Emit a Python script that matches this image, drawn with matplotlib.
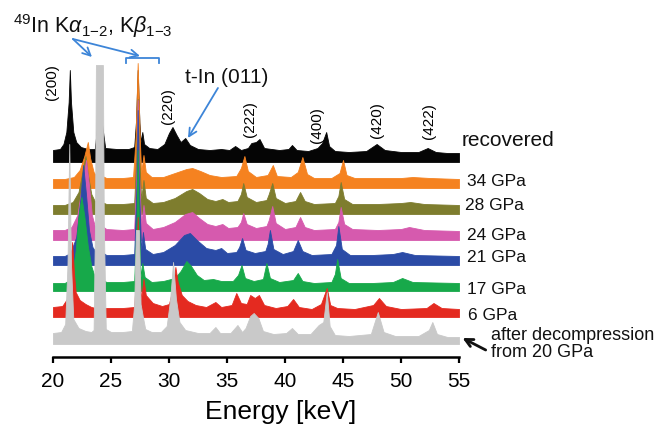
import matplotlib
matplotlib.use('Agg')
import matplotlib.pyplot as plt

plt.rcParams['font.family'] = ['Liberation Sans', 'DejaVu Sans']
plt.rcParams['mathtext.fontset'] = 'custom'
plt.rcParams['mathtext.rm'] = 'Liberation Sans'
plt.rcParams['mathtext.it'] = 'Liberation Sans:italic'
plt.rcParams['mathtext.bf'] = 'Liberation Sans:bold'

# ---------------- data (energy in keV, intensity in arbitrary units) ----------------
labels = ['recovered', '34 GPa', '28 GPa', '24 GPa', '21 GPa', '17 GPa', '6 GPa',
          'after decompression\nfrom 20 GPa']
colors = ['#050505', '#F58220', '#7E7D2E', '#D65AAE', '#2B4BA6', '#17A94A', '#E42A20', '#C9C9C9']
offsets = [195, 169, 143, 117, 92, 66, 40, 13]

e_recovered = [20.0, 20.6, 20.9, 21.15, 21.35, 21.45, 21.55, 21.75, 22.0, 22.4, 23.0, 23.6, 23.85,
               24.0, 24.2, 24.5, 25.5, 26.5, 27.0, 27.15, 27.3, 27.45, 27.55, 27.7, 27.85, 28.3,
               29.0, 29.6, 30.0, 30.3, 30.65, 31.0, 31.4, 31.8, 32.5, 33.5, 34.5, 35.2, 35.7, 36.2,
               36.8, 37.1, 37.5, 37.8, 38.2, 39.5, 40.3, 40.6, 41.0, 42.0, 42.8, 43.2, 43.55, 43.8,
               44.3, 45.5, 47.0, 47.9, 48.6, 50.0, 51.5, 52.3, 53.0, 54.0, 55.0]
i_recovered = [12, 13, 18, 30, 60, 92, 60, 30, 20, 15, 13, 13, 40,
               90, 40, 14, 13, 13, 15, 40, 92, 40, 20, 30, 18, 14,
               13, 18, 29, 35, 27, 20, 24, 17, 13, 12, 13, 12, 16, 12,
               14, 19, 20, 23, 14, 12, 13, 17, 12, 11, 14, 19, 30, 16,
               11, 10, 11, 18, 12, 10, 10, 14, 10, 9, 9]

e_34gpa = [20.0, 21.0, 21.8, 22.3, 22.7, 23.0, 23.2, 23.5, 23.75, 23.88, 24.0, 24.12, 24.25, 24.6,
           26.0, 26.9, 27.12, 27.3, 27.48, 27.6, 27.8, 28.0, 28.5, 29.5, 30.5, 31.5, 32.0, 32.7, 33.5,
           34.5, 35.8, 36.2, 36.5, 36.8, 37.5, 38.5, 38.95, 39.3, 40.5, 41.1, 41.5, 41.9, 42.5, 44.0,
           44.7, 45.0, 45.3, 46.0, 48.0, 50.0, 51.0, 52.5, 55.0]
i_34gpa = [9, 9, 11, 18, 32, 46, 30, 16, 12, 60, 110, 60, 12, 10,
           10, 11, 50, 125, 50, 15, 33, 16, 11, 11, 15, 19, 20, 17, 13,
           11, 12, 20, 32, 17, 11, 13, 23, 12, 11, 16, 31, 14, 10, 10,
           15, 28, 13, 10, 10, 10, 11, 10, 9]

e_28gpa = [20.0, 21.0, 21.7, 22.2, 22.5, 22.8, 23.0, 23.3, 23.6, 23.78, 23.9, 24.0, 24.1, 24.22,
           24.6, 26.0, 27.0, 27.18, 27.3, 27.42, 27.6, 27.8, 28.0, 28.6, 29.5, 30.5, 31.5, 32.0,
           32.6, 33.3, 34.0, 34.6, 35.1, 35.9, 36.2, 36.4, 36.7, 37.5, 38.4, 38.6, 38.9, 39.2, 40.0,
           40.9, 41.3, 41.7, 42.5, 44.3, 44.6, 44.8, 45.1, 45.8, 48.0, 50.0, 50.8, 52.0, 55.0]
i_28gpa = [9, 9, 12, 22, 40, 58, 40, 20, 13, 12, 60, 120, 60, 12,
           10, 10, 11, 60, 115, 60, 15, 34, 16, 11, 12, 16, 23, 25,
           21, 15, 13, 15, 12, 13, 20, 31, 17, 12, 14, 20, 31, 16, 11,
           13, 22, 13, 10, 11, 18, 32, 15, 10, 10, 11, 12, 10, 9]

e_24gpa = [20.0, 21.0, 21.6, 22.1, 22.5, 22.85, 23.1, 23.35, 23.6, 23.78, 23.9, 24.0, 24.1, 24.22,
           24.6, 26.0, 27.0, 27.2, 27.3, 27.4, 27.6, 27.8, 28.0, 28.6, 29.5, 30.5, 31.4, 32.0, 32.6,
           33.3, 34.0, 34.6, 35.1, 35.9, 36.2, 36.4, 36.7, 37.5, 38.4, 38.6, 38.9, 39.2, 40.0, 40.9,
           41.3, 41.7, 42.5, 44.3, 44.6, 44.8, 45.1, 45.8, 48.0, 50.0, 50.7, 52.0, 55.0]
i_24gpa = [10, 10, 13, 25, 55, 80, 55, 25, 14, 14, 80, 150, 80, 14,
           11, 10, 11, 70, 140, 70, 16, 35, 17, 11, 13, 18, 26, 28, 22,
           16, 14, 16, 12, 13, 18, 27, 16, 12, 14, 20, 34, 17, 11, 13,
           23, 13, 10, 11, 18, 33, 16, 11, 10, 11, 13, 10, 9]

e_21gpa = [20.0, 21.0, 21.5, 22.0, 22.35, 22.6, 22.85, 23.1, 23.4, 23.7, 23.8, 23.9, 24.0, 24.1,
           24.2, 24.6, 26.0, 27.0, 27.2, 27.3, 27.4, 27.6, 27.75, 27.95, 28.6, 29.5, 30.5, 31.3,
           31.8, 32.4, 33.2, 34.0, 34.5, 35.0, 35.8, 36.05, 36.3, 36.6, 37.4, 38.3, 38.5, 38.7, 39.0,
           39.8, 40.7, 41.1, 41.5, 42.3, 44.0, 44.4, 44.6, 44.9, 45.6, 47.5, 49.3, 50.1, 51.2, 55.0]
i_21gpa = [9, 9, 12, 28, 65, 100, 70, 35, 18, 13, 13, 90, 170, 90,
           13, 10, 10, 11, 80, 155, 80, 15, 33, 16, 11, 13, 20, 30,
           32, 25, 17, 15, 17, 12, 13, 18, 27, 15, 12, 14, 21, 35, 16,
           11, 14, 25, 14, 10, 11, 20, 39, 16, 10, 10, 11, 13, 10, 9]

e_17gpa = [20.0, 21.0, 21.6, 21.95, 22.2, 22.45, 22.7, 23.0, 23.3, 23.6, 23.8, 23.9, 24.0, 24.1,
           24.2, 24.6, 26.0, 27.0, 27.2, 27.3, 27.4, 27.55, 27.7, 27.9, 28.5, 29.5, 30.5, 31.0,
           31.5, 31.9, 32.4, 33.0, 33.8, 34.5, 35.5, 35.95, 36.25, 36.55, 37.3, 38.1, 38.4, 38.7,
           39.5, 40.7, 41.1, 41.5, 42.5, 44.0, 44.3, 44.5, 44.8, 45.5, 47.5, 49.3, 50.1, 51.0, 55.0]
i_17gpa = [8, 8, 12, 40, 75, 94, 75, 45, 25, 14, 12, 80, 170, 80,
           12, 9, 9, 10, 70, 141, 70, 14, 28, 14, 9, 10, 13, 20,
           30, 25, 16, 11, 12, 10, 10, 16, 26, 13, 10, 12, 28, 13,
           9, 11, 18, 10, 8, 9, 17, 32, 13, 8, 8, 9, 13, 9, 8]

e_6gpa = [20.0, 20.8, 21.2, 21.45, 21.65, 21.8, 21.95, 22.3, 22.8, 23.3, 23.7, 23.85, 24.0, 24.15,
          24.3, 25.0, 26.0, 27.0, 27.2, 27.3, 27.4, 27.6, 27.8, 28.0, 28.6, 29.4, 30.0, 30.35, 30.55,
          30.75, 31.1, 31.6, 32.3, 33.2, 34.0, 34.5, 35.4, 35.8, 36.2, 36.7, 37.0, 37.4, 37.75, 38.2,
          39.2, 40.2, 40.7, 41.2, 42.3, 43.1, 43.6, 43.9, 44.5, 46.0, 47.6, 48.1, 48.7, 50.0, 52.2,
          52.8, 53.5, 55.0]
i_6gpa = [10, 11, 18, 45, 75, 45, 25, 17, 13, 10, 9, 60, 150, 60,
          9, 9, 9, 10, 50, 100, 50, 18, 38, 22, 14, 11, 13, 30, 50,
          35, 22, 16, 12, 10, 15, 10, 12, 24, 14, 13, 22, 19, 22, 12,
          9, 11, 18, 10, 8, 13, 29, 12, 9, 8, 12, 19, 11, 8, 9,
          14, 9, 8]

e_decomp = [20.0, 20.7, 21.05, 21.25, 21.4, 21.55, 21.75, 22.2, 22.8, 23.3, 23.5, 23.62, 23.7, 24.3,
            24.38, 24.55, 25.0, 26.0, 26.8, 27.0, 27.15, 27.4, 27.55, 27.75, 27.95, 28.5, 29.3, 29.8,
            30.1, 30.35, 30.6, 30.9, 31.4, 32.5, 33.5, 34.0, 34.4, 35.3, 35.9, 36.3, 36.6, 37.0, 37.3,
            37.7, 38.1, 39.0, 40.1, 40.6, 41.1, 42.2, 42.9, 43.3, 43.6, 43.85, 44.3, 45.5, 47.4, 48.0,
            48.5, 49.5, 51.5, 52.4, 52.7, 53.1, 54.0, 55.0]
i_decomp = [11, 12, 20, 80, 200, 80, 25, 16, 13, 12, 14, 120, 279, 279,
            120, 15, 12, 12, 13, 40, 114, 114, 40, 27, 15, 12, 12, 18,
            45, 82, 45, 22, 14, 11, 11, 17, 11, 11, 19, 12, 16, 28, 31,
            26, 13, 10, 11, 16, 10, 10, 19, 22, 52, 18, 9, 8, 10, 32,
            12, 8, 8, 14, 22, 10, 7, 7]

energies = [e_recovered, e_34gpa, e_28gpa, e_24gpa, e_21gpa, e_17gpa, e_6gpa, e_decomp]
intensities = [i_recovered, i_34gpa, i_28gpa, i_24gpa, i_21gpa, i_17gpa, i_6gpa, i_decomp]

hkl_labels = ['(200)', '(220)', '(222)', '(400)', '(420)', '(422)']
hkl_energy = [19.9, 29.9, 37.0, 42.75, 47.9, 52.4]
hkl_y = [275, 251, 238, 232, 237, 236]

xticks = [20, 25, 30, 35, 40, 45, 50, 55]

# ---------------- figure ----------------
fig = plt.figure(figsize=(6.56, 4.25), dpi=100)
ax = fig.add_axes([53 / 656, 1 - 357 / 425, 406 / 656, 357 / 425])
ax.set_xlim(20, 55)
ax.set_ylim(0, 357)

for k, (e, inten, off, c) in enumerate(zip(energies, intensities, offsets, colors)):
    top = [off + v for v in inten]
    ax.fill_between(e, off, top, color=c, lw=0.6, edgecolor=c, zorder=2 + k)

# spectrum labels on the right
label_y = [216, 175, 151, 121, 99, 68, 41, 13]
label_x = [55.25, 55.7, 55.55, 55.7, 55.7, 55.7, 55.8, 57.75]
label_fs = [15, 12.5, 12.5, 12.5, 12.5, 12.5, 12.5, 13]
for lab, lx, ly, fs in zip(labels, label_x, label_y, label_fs):
    ax.text(lx, ly, lab, fontsize=fs, ha='left', va='center', clip_on=False,
            linespacing=1.0, color='#111111')

# Miller indices
for lab, he, hy in zip(hkl_labels, hkl_energy, hkl_y):
    ax.text(he, hy, lab, rotation=90, fontsize=11, ha='center', va='center', clip_on=False)

blue = '#3D85D8'
ax.text(16.55, 324, r'$^{49}$In K$\alpha_{1\mathrm{-}2}$, K$\beta_{1\mathrm{-}3}$',
        fontsize=15.5, ha='left', va='baseline', clip_on=False, color='#111111')
ax.annotate('', xy=(23.36, 300), xytext=(21.72, 318), annotation_clip=False,
            arrowprops=dict(arrowstyle='->', color=blue, lw=1.3, mutation_scale=14, shrinkA=0, shrinkB=0))
ax.annotate('', xy=(27.5, 301), xytext=(21.72, 318), annotation_clip=False,
            arrowprops=dict(arrowstyle='->', color=blue, lw=1.3, mutation_scale=14, shrinkA=0, shrinkB=0))
ax.plot([26.29, 26.29, 29.14, 29.14], [294, 299, 299, 294], color=blue, lw=1.3, clip_on=False)
ax.text(31.38, 274, 't-In (011)', fontsize=15, ha='left', va='baseline', clip_on=False, color='#111111')
ax.annotate('', xy=(31.64, 219), xytext=(34.22, 269), annotation_clip=False,
            arrowprops=dict(arrowstyle='->', color=blue, lw=1.3, mutation_scale=14, shrinkA=0, shrinkB=0))
ax.annotate('', xy=(55.3, 19), xytext=(57.3, 7), annotation_clip=False,
            arrowprops=dict(arrowstyle='->', color='#111111', lw=2.0, mutation_scale=14, shrinkA=0, shrinkB=0))

# axes styling
for s in ['left', 'right', 'top']:
    ax.spines[s].set_visible(False)
ax.spines['bottom'].set_linewidth(1.8)
ax.set_yticks([])
ax.set_xticks(xticks)
ax.set_xticklabels([str(t) for t in xticks])
ax.tick_params(axis='x', direction='out', length=4, width=1.6, labelsize=15, pad=6.5)
ax.patch.set_alpha(0)

fig.text(281 / 656, 1 - 412 / 425, 'Energy [keV]', fontsize=19, ha='center', va='center')

fig.savefig('out.png', dpi=100)
